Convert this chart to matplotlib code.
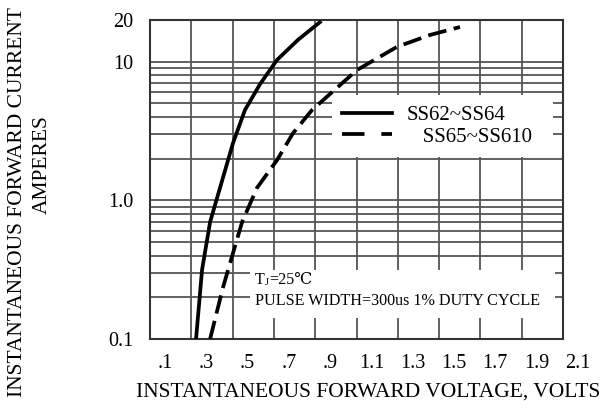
import matplotlib
matplotlib.use('Agg')
import matplotlib.pyplot as plt
import matplotlib.transforms as mtransforms
from matplotlib.lines import Line2D
from matplotlib.patches import Rectangle
from matplotlib.ticker import LogLocator, NullFormatter

plt.rcParams['font.family'] = ['Liberation Serif', 'DejaVu Serif']

# forward voltage (V) / current (A)
v_ss62 = [0.323, 0.352, 0.391, 0.454, 0.502, 0.560, 0.633, 0.715, 0.817, 0.923]
i_ss62 = [0.1, 0.315, 0.698, 1.47, 2.59, 4.49, 6.9, 10.3, 14.4, 19.3]

v_ss65 = [0.391, 0.454, 0.502, 0.546, 0.618, 0.715, 0.793, 0.885, 1.102, 1.296, 1.456, 1.601]
i_ss65 = [0.1, 0.237, 0.417, 0.698, 1.23, 1.95, 3.06, 4.49, 8.71, 12.8, 15.6, 17.8]

x_ticks = [0.1, 0.3, 0.5, 0.7, 0.9, 1.1, 1.3, 1.5, 1.7, 1.9, 2.1]
x_labels = ['.1', '.3', '.5', '.7', '.9', '1.1', '1.3', '1.5', '1.7', '1.9', '2.1']
y_ticks = [0.1, 1.0, 10, 20]
y_labels = ['0.1', '1.0', '10', '20']

fig = plt.figure(figsize=(6.15, 4.13), dpi=100)
ax = fig.add_axes([150/615, 1-339/413, 413/615, 319/413])

ax.set_yscale('log')
ax.set_xlim(0.1, 2.1)
ax.set_ylim(0.1, 20)
ax.set_axisbelow(True)

ax.set_xticks(x_ticks)
ax.set_xticklabels(x_labels, fontsize=14.5)
ax.set_yticks(y_ticks)
ax.set_yticklabels(y_labels, fontsize=14.5)
ax.yaxis.set_minor_locator(LogLocator(base=10, subs=range(2, 10)))
ax.yaxis.set_minor_formatter(NullFormatter())
ax.tick_params(which='both', length=0)
ax.tick_params(axis='x', pad=11)
ax.tick_params(axis='y', pad=12)

# labels sit a bit right of the grid lines in the original
shift = mtransforms.ScaledTranslation(0.15, 0, fig.dpi_scale_trans)
for lab in ax.get_xticklabels():
    lab.set_transform(lab.get_transform() + shift)

ax.grid(True, which='both', color='#555555', linewidth=1.3)
for s in ax.spines.values():
    s.set_linewidth(1.5)
    s.set_color('#333333')

ax.plot(v_ss62, i_ss62, color='black', lw=2.7, zorder=3)
ax.plot(v_ss65, i_ss65, color='black', lw=2.7, dashes=(5, 2), zorder=3)

# white box behind the test conditions
ax.add_patch(Rectangle((100/413, 21/319), 305/413, 48/319, transform=ax.transAxes,
                       facecolor='white', edgecolor='none', zorder=1))
t1 = ax.text(105/413, 55/319, 'T', transform=ax.transAxes, fontsize=11.6,
             va='baseline', ha='left', zorder=4)
t2 = ax.annotate('J', xy=(1, 0.08), xycoords=t1, fontsize=7.5, va='bottom', ha='left', zorder=4)
ax.annotate('=25\u2103', xy=(1, 0), xycoords=(t2, t1), fontsize=11.6, va='bottom', ha='left', zorder=4)
ax.text(105/413, 34/319, 'PULSE WIDTH=300us 1% DUTY CYCLE', transform=ax.transAxes,
        fontsize=11.6, va='baseline', ha='left', zorder=4)

handles = [Line2D([], [], color='black', lw=2.7),
           Line2D([], [], color='black', lw=2.7, dashes=(6, 4.5))]
leg = ax.legend(handles, ['SS62~SS64', '   SS65~SS610'], loc='upper left',
                bbox_to_anchor=((332-150)/413, (339-160)/319, 221/413, 65/319),
                mode='expand', fontsize=15,
                frameon=True, fancybox=False, framealpha=1, facecolor='white',
                edgecolor='none', handlelength=2.4, handletextpad=0.7,
                labelspacing=0.1, borderpad=0.5, borderaxespad=0)

fig.text(368/615, 1-392/413, 'INSTANTANEOUS FORWARD VOLTAGE, VOLTS', fontsize=15.5,
         ha='center', va='center')
fig.text(18/615, 1-202/413, 'INSTANTANEOUS FORWARD CURRENT', fontsize=15.5,
         ha='center', va='center', rotation=90)
fig.text(42/615, 1-165/413, 'AMPERES', fontsize=15.5, ha='center', va='center', rotation=90)

fig.savefig('out.png', dpi=100)
plt.close(fig)
